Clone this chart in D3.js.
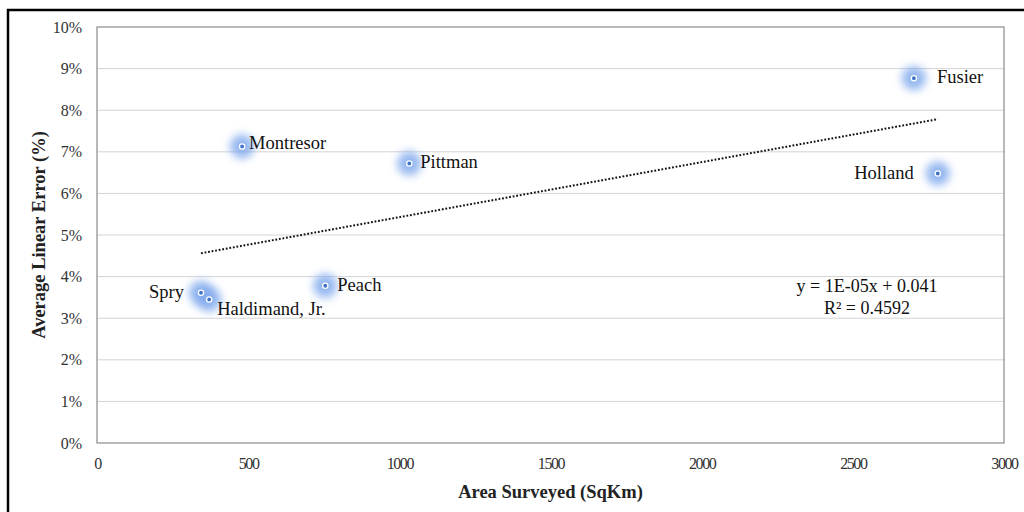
<!DOCTYPE html>
<html><head><meta charset="utf-8">
<script src="https://cdn.jsdelivr.net/npm/d3@7/dist/d3.min.js"></script>
<style>body{margin:0;background:#fff}svg{display:block}text{font-family:"Liberation Serif","Times New Roman",serif}</style>
</head><body>
<script>
const names = ["Spry","Haldimand, Jr.","Peach","Montresor","Pittman","Fusier","Holland"];
const areas = [344, 371, 755, 480, 1033, 2702, 2781];
const errors = [0.0361, 0.0345, 0.0378, 0.0713, 0.0672, 0.0877, 0.0648];
const xTicks = [0,500,1000,1500,2000,2500,3000];
const yTicks = [0,0.01,0.02,0.03,0.04,0.05,0.06,0.07,0.08,0.09,0.10];
const eqLines = ["y = 1E-05x + 0.041","R² = 0.4592"];

// label placement (layout only)
const labelLayout = [
  {anchor:"end",dx:-17,dy:5},
  {anchor:"start",dx:8,dy:16},
  {anchor:"start",dx:12,dy:5},
  {anchor:"start",dx:7,dy:3},
  {anchor:"start",dx:11,dy:5},
  {anchor:"start",dx:23,dy:5},
  {anchor:"end",dx:-24,dy:6}
];

const W=1024,H=512;
const m={l:97,t:27,r:1004,b:443};
const svg=d3.select("body").append("svg").attr("width",W).attr("height",H);
const defs=svg.append("defs");
defs.append("filter").attr("id","glow").attr("x","-100%").attr("y","-100%").attr("width","300%").attr("height","300%")
  .append("feGaussianBlur").attr("stdDeviation",4.5);

svg.append("rect").attr("x",8).attr("y",10).attr("width",1030).attr("height",530)
  .attr("fill","none").attr("stroke","#000").attr("stroke-width",2.5);

const x=d3.scaleLinear().domain([0,3000]).range([m.l,m.r]);
const y=d3.scaleLinear().domain([0,0.10]).range([m.b,m.t]);

// gridlines
svg.append("g").selectAll("line").data(yTicks.slice(1,-1)).join("line")
  .attr("x1",m.l).attr("x2",m.r).attr("y1",d=>y(d)).attr("y2",d=>y(d))
  .attr("stroke","#d4d4d4").attr("stroke-width",1);
svg.append("rect").attr("x",m.l).attr("y",m.t).attr("width",m.r-m.l).attr("height",m.b-m.t)
  .attr("fill","none").attr("stroke","#8a8a8a").attr("stroke-width",1.2);

// axes
const yAxis=d3.axisLeft(y).tickValues(yTicks).tickFormat(d3.format(".0%")).tickSize(0).tickPadding(15);
const gy=svg.append("g").attr("transform",`translate(${m.l},0)`).call(yAxis);
gy.select(".domain").remove();
gy.selectAll("text").attr("font-size",16).attr("fill","#333").attr("font-family","Liberation Serif");
const xAxis=d3.axisBottom(x).tickValues(xTicks).tickFormat(d3.format("d")).tickSize(0).tickPadding(15);
const gx=svg.append("g").attr("transform",`translate(0,${m.b})`).call(xAxis);
gx.select(".domain").remove();
gx.selectAll("text").attr("font-size",16).attr("fill","#333").attr("font-family","Liberation Serif").attr("letter-spacing","-1.4");

svg.append("text").attr("x",(m.l+m.r)/2).attr("y",498).attr("text-anchor","middle")
  .attr("font-size",18.5).attr("font-weight","bold").attr("fill","#222").text("Area Surveyed (SqKm)");
svg.append("text").attr("transform",`translate(45,${(m.t+m.b)/2}) rotate(-90)`).attr("text-anchor","middle")
  .attr("font-size",18.5).attr("font-weight","bold").attr("fill","#222").text("Average Linear Error (%)");

// trendline (least squares)
const mx=d3.mean(areas), my=d3.mean(errors);
let sxy=0,sxx=0; areas.forEach((a,i)=>{sxy+=(a-mx)*(errors[i]-my);sxx+=(a-mx)*(a-mx);});
const slope=sxy/sxx, icpt=my-slope*mx;
const x0=d3.min(areas), x1=d3.max(areas);
svg.append("line").attr("x1",x(x0)).attr("y1",y(icpt+slope*x0)).attr("x2",x(x1)).attr("y2",y(icpt+slope*x1))
  .attr("stroke","#111").attr("stroke-width",2).attr("stroke-dasharray","1.8,1.8");

// points
const pts=names.map((nm,i)=>({nm,a:areas[i],e:errors[i],L:labelLayout[i]}));
svg.append("g").selectAll("circle").data(pts).join("circle")
  .attr("cx",d=>x(d.a)).attr("cy",d=>y(d.e)).attr("r",12)
  .attr("fill","#7aa5ec").attr("opacity",0.8).attr("filter","url(#glow)");
svg.append("g").selectAll("circle").data(pts).join("circle")
  .attr("cx",d=>x(d.a)).attr("cy",d=>y(d.e)).attr("r",2.6)
  .attr("fill","#3f72c8").attr("stroke","#fff").attr("stroke-width",1.3);

svg.append("g").selectAll("text").data(pts).join("text")
  .attr("font-size",18.5).attr("fill","#111")
  .attr("x",d=>x(d.a)+d.L.dx)
  .attr("y",d=>y(d.e)+d.L.dy)
  .attr("text-anchor",d=>d.L.anchor)
  .text(d=>d.nm);

// equation
svg.append("g").selectAll("text").data(eqLines).join("text")
  .attr("x",867).attr("y",(d,i)=>292+i*22).attr("text-anchor","middle")
  .attr("font-size",18).attr("fill","#111").text(d=>d);
</script>
</body></html>
